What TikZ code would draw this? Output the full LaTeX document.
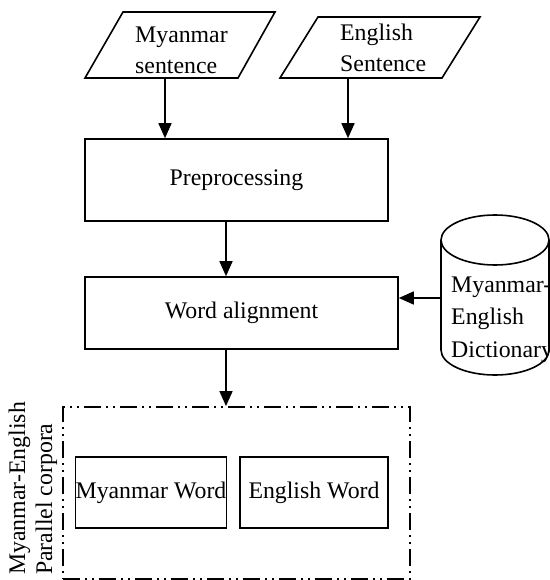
\documentclass[tikz,border=0pt]{standalone}
\usepackage{fontspec}
\setmainfont{Liberation Serif}
\usetikzlibrary{arrows.meta}
\begin{document}
\begin{tikzpicture}[x=1pt,y=-1pt,
  every node/.style={font=\fontsize{23.8}{31}\selectfont, inner sep=0pt},
  ln/.style={line width=1.6pt},
  proc/.style={draw, rectangle, line width=1.6pt},
  arr/.style={line width=1.6pt, -{Triangle[length=15pt,width=13pt]}},
  dashdotbox/.style={draw, rectangle, line width=1.8pt,
    dash pattern=on 17pt off 5pt on 2pt off 5pt on 2pt off 5pt},
  lines/.style={anchor=base west, align=left}]
\useasboundingbox (0,0) rectangle (549,580);

% input parallelograms (anchor = baseline of last line)
\draw[ln] (123,12) -- (275,12) -- (238,78) -- (85,78) -- cycle;
\node[lines] (mys) at (135,74) {Myanmar\\sentence};
\coordinate (myout) at (165,78);

\draw[ln] (318,17) -- (480,17) -- (442,78) -- (280,78) -- cycle;
\node[lines] (ens) at (340,72) {English\\Sentence};
\coordinate (enout) at (348,78);

% process boxes
\node[proc, minimum width=303pt, minimum height=82pt] (pre) at (236.5,180) {Preprocessing};
\node[proc, minimum width=313pt, minimum height=72pt] (wa) at (241.5,313) {Word alignment};

% dictionary cylinder
\draw[ln] (495,240) ellipse[x radius=54, y radius=25];
\draw[ln] (441,240) -- (441,350) arc[start angle=180, end angle=0, x radius=54, y radius=25] -- (549,240);
\node[lines, font=\fontsize{23.8}{32.5}\selectfont] (dtx) at (451,357) {Myanmar-\\English\\Dictionary};
\coordinate (dict) at (441,298);

% parallel corpora
\node[dashdotbox, minimum width=347pt, minimum height=172pt] (par) at (236.5,493) {};
\node[proc, minimum width=150pt, minimum height=71pt] (mw) at (151,492.5) {Myanmar Word};
\node[proc, minimum width=148pt, minimum height=71pt] (ew) at (314,492.5) {English Word};
\node[lines, rotate=90, font=\fontsize{23.8}{27}\selectfont] (lbl) at (52,575) {Myanmar-English\\Parallel corpora};

% connectors
\coordinate (c1) at (226,0);
\draw[arr] (myout) -- (myout |- pre.north);
\draw[arr] (enout) -- (enout |- pre.north);
\draw[arr] (pre.south -| c1) -- (wa.north -| c1);
\draw[arr] (dict) -- (dict -| wa.east);
\draw[arr] (wa.south -| c1) -- (par.north -| c1);
\end{tikzpicture}
\end{document}
